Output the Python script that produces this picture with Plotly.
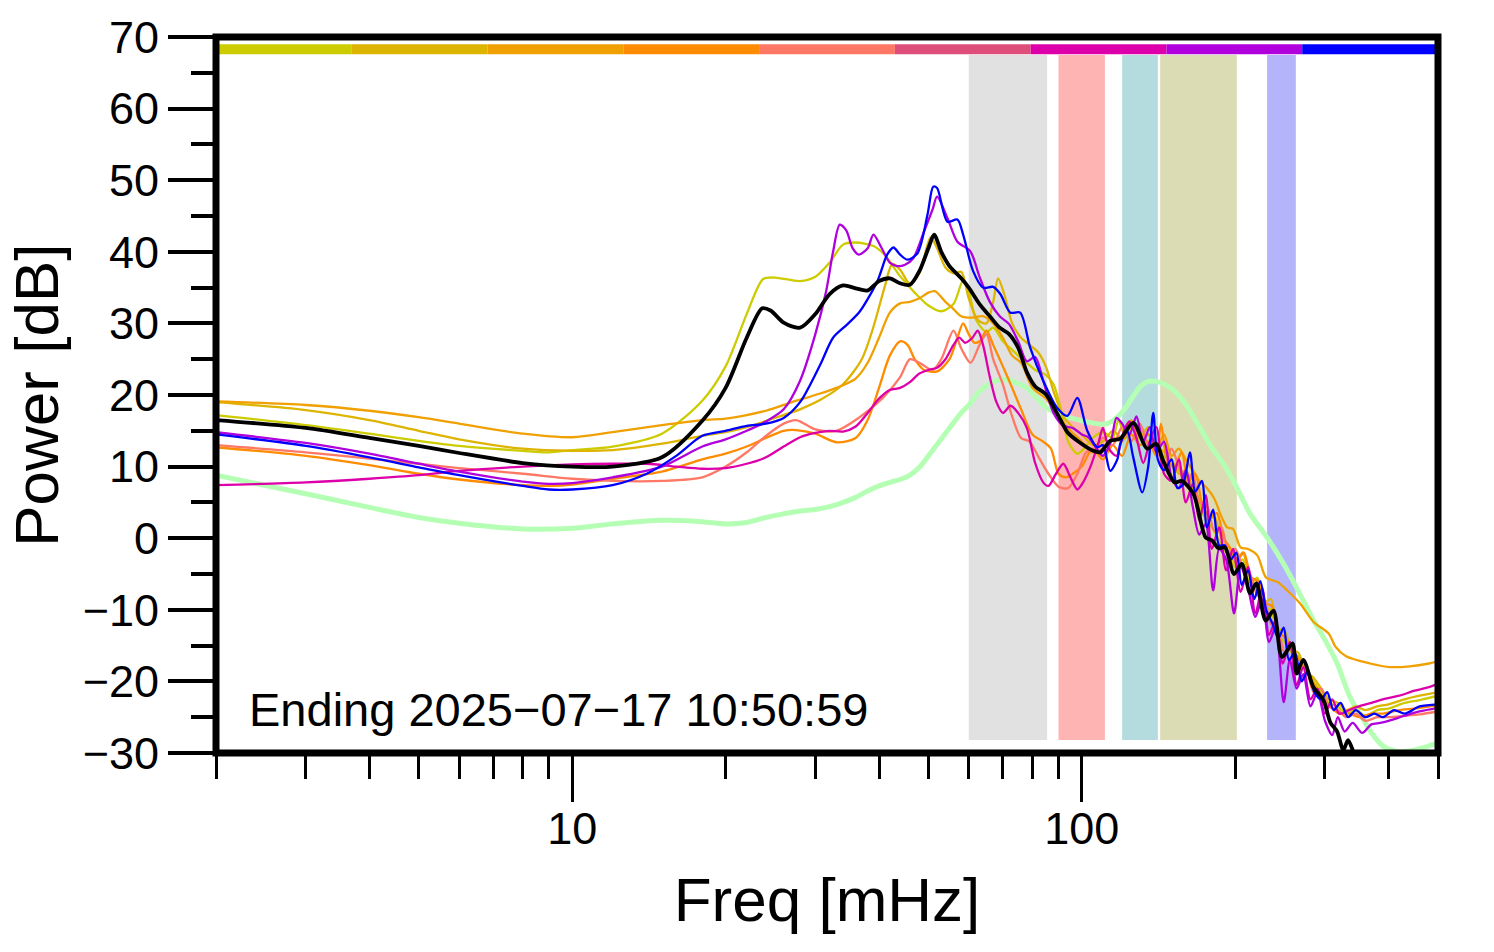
import math
import plotly.graph_objects as go

# ---------------- data (frequency mHz, power dB) ----------------
yg = [(2,17.2),(3,15.8),(4,14.6),(5,13.6),(6,12.9),(8,12.2),(9,12.0),(10,12.3),(12,12.8),(15,14.6),(18,19.2),(20,24.0),(22,31.3),(23.7,36.2),(25,36.4),(28,35.9),(30,36.5),(32,38.5),(34,41.0),(36,41.3),(39,40.8),(41,39.6),(44,36.6),(47,34.3),(50,32.5),(53,31.7),(56,32.7),(58.5,36.0),(60,34.5),(62,30.5),(65,28.8),(67,29.4),(70,27.5),(72.5,26.5),(75,25.5),(78,24.5),(81,23.5),(85,22.8),(88,21.5),(91,18.0),(94,13.5),(98,11.8),(101,12.5),(105,14.0),(110,14.8),(115,14.0),(118,16.5),(122,14.0),(126,15.8),(130,13.0),(135,14.5),(140,12.0),(145,11.5),(150,10.0),(155,9.5),(160,7.5),(165,8.5),(170,4.5),(176,2.5),(182,1.0),(188,-1.0),(194,-2.5),(200,-4.0),(207,-3.0),(214,-6.5),(221,-5.5),(228,-9.5),(235,-10.0),(242,-13.5),(250,-14.5),(258,-16.0),(266,-16.5),(275,-18.0),(285,-20.0),(295,-21.5),(305,-23.0),(318,-23.5),(330,-24.5),(345,-24.0),(360,-24.8),(380,-24.0),(400,-23.8),(430,-23.0),(460,-22.6),(500,-22.0)]

gold = [(2,19.0),(3,17.9),(4,16.5),(5,15.0),(6,13.8),(8,12.5),(10,12.2),(12,12.3),(15,13.2),(18,14.3),(20,14.8),(22,15.5),(25,16.8),(28,18.0),(31,19.5),(34,21.5),(37,25.0),(39,29.5),(41,35.0),(42.5,38.3),(44,37.5),(46,35.5),(48,37.0),(50.5,42.0),(52,40.5),(54,37.8),(56,37.0),(58,37.2),(60,33.5),(62.5,30.5),(65,30.0),(67,33.0),(68.5,36.3),(70.5,34.0),(73,30.0),(76,28.0),(79,27.0),(82,26.0),(85,24.0),(88,20.5),(92,17.0),(96,15.5),(100,14.5),(105,13.0),(110,13.5),(115,15.0),(120,14.0),(125,16.0),(130,14.0),(135,15.5),(140,13.0),(145,12.0),(150,11.0),(155,9.0),(160,9.5),(165,7.0),(170,5.5),(176,2.5),(182,3.0),(188,0.0),(194,-1.0),(200,-3.5),(207,-2.0),(214,-5.5),(221,-6.0),(228,-9.0),(235,-8.5),(242,-12.5),(250,-13.0),(258,-15.5),(266,-16.0),(275,-18.5),(285,-19.5),(295,-21.0),(305,-22.5),(318,-23.0),(330,-24.0),(345,-23.5),(360,-24.0),(380,-23.5),(400,-23.2),(430,-22.5),(460,-22.0),(500,-21.5)]

orange = [(2,19.1),(3,18.6),(4,17.8),(5,16.9),(6,16.0),(8,14.6),(10,14.1),(12,14.8),(15,15.8),(18,16.5),(20,16.7),(22,17.2),(24,17.8),(27,19.0),(30,20.0),(33,21.0),(36,22.3),(38,24.5),(40,28.0),(42,31.5),(44,32.8),(46,33.0),(48,33.5),(50,34.3),(51.5,34.5),(54,33.0),(56,32.0),(58,31.0),(61,30.8),(64,31.0),(67,30.0),(70,28.0),(73,25.5),(76,24.5),(80,21.0),(85,19.5),(90,17.0),(95,15.0),(100,13.5),(105,12.0),(110,12.5),(115,14.0),(120,13.5),(125,16.5),(130,14.0),(135,14.5),(140,12.5),(145,14.5),(150,11.5),(155,12.5),(160,11.0),(165,9.5),(170,8.0),(176,7.0),(182,5.5),(188,3.0),(193,1.5),(198,1.3),(205,-1.3),(212,-1.5),(221,-2.4),(230,-5.5),(242,-6.1),(253,-7.3),(268,-9.1),(285,-11.7),(305,-13.3),(315,-15.2),(330,-16.5),(368,-17.5),(403,-18.0),(440,-17.9),(480,-17.5),(500,-17.2)]

darkorange = [(2,12.7),(3,11.5),(4,10.2),(5,9.0),(6,8.2),(8,7.4),(9,7.3),(10,7.5),(12,8.3),(15,9.3),(18,11.0),(20,11.8),(22,12.8),(24,14.0),(26,15.0),(27.5,15.1),(30,14.6),(33,13.4),(36,14.0),(38,16.5),(40,21.0),(42,25.5),(44,27.5),(45.5,27.0),(47,25.0),(49,23.5),(52,23.3),(55,25.0),(57,28.0),(58.5,30.0),(60,28.5),(61.5,27.3),(63,27.5),(65,29.0),(67,27.0),(70,24.0),(73,21.0),(76,18.0),(80,14.5),(84,13.5),(87,12.5),(90,9.0),(93,8.5),(96,9.0),(100,10.0),(105,12.5),(110,11.0),(115,13.0),(120,11.5),(125,14.5),(130,13.0),(135,13.5),(140,11.5),(143,16.0),(147,11.0),(152,10.0),(157,12.0),(162,8.0),(167,9.0),(172,5.0),(178,3.0),(184,3.5),(190,0.0),(196,-1.5),(202,-3.0),(208,-2.0),(215,-5.5),(222,-6.0),(229,-9.0),(236,-9.5),(243,-13.0),(251,-14.0),(259,-15.5),(267,-17.0),(276,-18.5),(286,-20.5),(296,-22.0),(307,-23.5),(320,-24.5),(335,-24.5),(350,-25.0),(370,-24.5),(390,-24.5),(420,-24.0),(450,-23.8),(500,-23.3)]

salmon = [(2,13.0),(3,12.0),(4,11.1),(5,10.4),(6,9.8),(8,9.0),(10,8.3),(12,8.0),(15,8.0),(18,8.5),(20,10.0),(22,12.0),(24,14.3),(26,16.0),(27.5,16.5),(30,15.2),(33,15.0),(36.5,16.8),(40.7,19.6),(44,22.5),(46,25.0),(48,24.5),(51,23.5),(53,25.0),(56,29.0),(58,26.5),(60.5,24.5),(63,27.0),(65,28.5),(67,25.0),(70,21.5),(73,17.0),(76,14.0),(79,13.5),(82,11.5),(86,9.0),(90,7.2),(94,7.0),(98,9.0),(102,12.0),(106,12.5),(110,14.0),(115,13.0),(120,15.5),(125,13.5),(130,16.0),(135,13.0),(140,12.5),(145,10.0),(150,12.5),(155,10.0),(160,8.0),(165,9.0),(170,5.0),(176,4.5),(182,1.0),(188,1.5),(194,-2.0),(200,-1.5),(207,-4.0),(214,-5.0),(221,-8.0),(228,-8.5),(235,-12.0),(242,-12.5),(250,-16.0),(258,-15.5),(266,-18.5),(275,-18.0),(285,-21.5),(295,-21.0),(305,-23.5),(318,-24.0),(330,-25.0),(345,-24.5),(360,-25.5),(380,-25.0),(400,-25.0),(430,-24.8),(460,-24.6),(500,-24.2)]

magenta = [(2,7.4),(3,7.8),(4,8.3),(5,8.8),(6,9.4),(8,10.0),(10,10.3),(12,10.4),(14,10.4),(16,10.0),(18,9.7),(20,9.8),(22,10.4),(24,11.3),(26,12.8),(28,14.1),(30,14.7),(32,15.0),(34,14.9),(36,15.6),(38,17.5),(40,19.5),(42,20.7),(44,21.0),(46,21.8),(48,23.0),(50,23.5),(52,23.8),(54,25.0),(56,27.0),(57.5,28.0),(59,27.3),(61,28.0),(62.5,29.0),(64,27.0),(66,22.5),(68,19.0),(70,17.5),(72.5,18.5),(75,17.5),(78,15.4),(81,10.5),(84,7.8),(86,7.3),(89,9.0),(92,10.4),(95,8.5),(98,6.8),(100,7.5),(104,10.0),(108,13.5),(110,15.4),(113,12.5),(117,11.5),(121,15.0),(124,16.3),(128,14.0),(132,10.5),(136,13.5),(140,15.5),(145,9.0),(150,8.0),(155,11.0),(160,5.0),(165,7.5),(170,2.5),(175,6.0),(180,-1.5),(186,1.5),(192,-4.5),(198,-1.5),(205,-7.5),(212,-4.0),(219,-10.5),(226,-7.0),(233,-13.5),(240,-11.5),(248,-17.5),(256,-14.5),(264,-20.5),(272,-18.0),(281,-22.5),(290,-21.0),(300,-24.5),(310,-22.5),(320,-24.5),(335,-24.0),(350,-23.5),(370,-23.0),(390,-22.5),(420,-22.0),(450,-21.3),(480,-20.8),(500,-20.3)]

purple = [(2,14.8),(3,13.3),(4,11.8),(5,10.4),(6,9.3),(8,7.9),(9,7.6),(10,7.7),(12,8.5),(15,10.0),(18,12.8),(20,13.8),(22,15.0),(24,16.3),(26,18.0),(28,22.0),(30,28.5),(31.5,34.5),(32.5,40.0),(33.5,43.8),(34.5,43.0),(35.5,40.5),(36.5,39.6),(38,40.5),(39,42.4),(40.5,40.5),(42,38.5),(43.5,38.0),(45,38.2),(46.7,39.1),(49,42.8),(51,46.0),(52,47.7),(54.5,44.7),(57,41.4),(60.4,40.1),(63,36.5),(66,33.0),(69,31.0),(72,29.9),(75,27.5),(78,24.7),(81,25.3),(84,22.0),(88,17.5),(92,15.7),(96,15.4),(100,14.5),(103,14.1),(107,12.5),(110,11.5),(114,13.5),(117,16.8),(120,16.0),(124,14.5),(128,17.0),(132,13.5),(136,15.5),(140,12.0),(145,13.5),(150,8.5),(155,7.0),(160,9.5),(165,4.5),(170,0.5),(175,2.0),(181,-7.3),(186,-1.5),(192,-3.0),(199,-10.5),(205,-4.0),(212,-7.0),(219,-11.0),(226,-8.5),(233,-14.5),(240,-12.5),(249,-22.9),(256,-17.0),(264,-21.0),(272,-19.0),(281,-23.5),(290,-21.5),(300,-25.5),(310,-27.5),(318,-25.0),(328,-27.0),(340,-25.8),(355,-27.2),(370,-26.0),(385,-25.8),(400,-25.5),(430,-24.8),(460,-24.2),(500,-23.7)]

blue = [(2,14.5),(3,12.9),(4,11.3),(5,9.9),(6,8.8),(8,7.3),(9,6.8),(10,6.8),(12,7.4),(14,9.0),(16,11.5),(18,14.3),(20,15.0),(22,15.7),(24,16.0),(26,16.8),(28,19.0),(30.7,24.3),(32.5,28.0),(34.7,29.9),(36.7,31.7),(39.7,35.9),(41.5,39.6),(42.7,40.6),(44,39.6),(45.5,38.9),(47.6,39.8),(49.8,45.2),(51.1,49.1),(52,48.9),(54.5,44.2),(57,44.5),(58.5,42.4),(61.2,37.3),(64,35.0),(67,35.1),(69.2,34.1),(72.4,31.5),(75.7,31.5),(79.2,26.6),(84,22.0),(89.5,18.2),(93.7,17.1),(98,19.6),(102.5,15.0),(107.3,12.7),(110,13.0),(113.7,9.4),(117.4,11.0),(119,13.2),(122.8,15.0),(126,11.5),(131.4,6.4),(135,10.0),(138.1,17.5),(141,11.0),(145,9.5),(150,11.0),(154,7.0),(158,7.5),(163,12.0),(167,6.5),(172,8.0),(176,1.5),(181,4.0),(186,-1.0),(191,-1.0),(196,-3.0),(201,-2.0),(206,-6.5),(212,-4.5),(218,-8.5),(224,-6.0),(230,-10.0),(237,-12.0),(243,-14.0),(249,-12.5),(255,-17.0),(262,-16.0),(270,-20.0),(278,-18.5),(286,-21.5),(295,-22.5),(303,-21.5),(312,-24.0),(322,-23.0),(333,-25.0),(345,-24.0),(360,-25.0),(375,-24.5),(390,-25.0),(410,-24.0),(430,-24.5),(460,-23.5),(500,-23.2)]

mean_black = [(2,16.5),(3,15.4),(4,14.0),(5,12.9),(6,11.9),(8,10.5),(10,10.0),(12,10.0),(15,11.3),(18,16.4),(20,21.0),(22,28.0),(23.6,32.1),(24.5,31.8),(26,30.1),(28,29.4),(30,31.3),(32,34.1),(34,35.3),(36,34.9),(38,34.6),(40,35.9),(42,36.3),(44,35.6),(46,35.4),(48,37.3),(50,40.5),(51.3,42.4),(53,40.0),(55,38.0),(58,36.3),(60,35.0),(63,32.7),(66,31.0),(69,29.4),(72,28.5),(75,26.6),(78,23.2),(81,21.2),(85,20.1),(89.5,17.4),(93.7,14.8),(98,13.6),(105.3,12.2),(108.7,12.0),(113.7,13.6),(119,13.9),(126.2,16.1),(134.3,12.5),(140,13.2),(144.5,10.8),(152,7.8),(157,8.0),(165.6,6.2),(175,0.1),(180,-0.3),(185.5,-1.4),(191,-1.3),(199,-5.0),(206,-3.6),(214,-7.7),(220,-6.3),(229.5,-11.5),(237.8,-10.1),(247,-16.6),(259,-14.7),(264,-18.9),(272,-17.0),(284.7,-20.8),(298,-22.6),(307.7,-25.8),(317,-27.0),(326,-29.6),(333,-28.2),(341,-29.8),(352,-32.0),(370,-34.0)]

reference_green = [(2,8.8),(3,6.2),(4,4.3),(5,2.9),(6,2.1),(8,1.3),(10,1.4),(12,2.0),(15,2.5),(18,2.3),(20,2.0),(22,2.2),(24,2.9),(26,3.4),(28,3.8),(30,4.0),(32,4.4),(34,5.0),(36,5.7),(38,6.6),(40,7.3),(42,7.8),(44,8.2),(46,8.8),(48,9.9),(50,11.5),(52,13.1),(55,15.4),(58,17.5),(60,18.6),(63,20.5),(66,21.6),(69,22.1),(72,22.1),(75,21.6),(78,21.0),(81,19.8),(85,18.3),(90,17.3),(95,16.8),(100,16.4),(105,16.1),(110,15.9),(115,16.4),(120,17.6),(125,19.4),(130,21.1),(135,21.9),(140,21.9),(145,21.5),(150,20.9),(160,18.7),(170,15.6),(180,12.6),(190,10.3),(200,7.5),(214,3.4),(231,0.1),(249,-3.6),(268,-7.8),(285,-11.5),(300,-14.2),(317,-17.5),(336,-22.2),(357,-25.4),(373,-27.5),(391,-29.1),(416,-29.8),(447,-29.6),(476,-29.1),(500,-28.6)]

# shaded frequency bands (mHz)
band_lo = [60, 90, 120, 142.5, 231]
band_hi = [85.5, 111, 141, 201.5, 263]
band_colors = ["#e1e1e1", "#ffb4b4", "#b4dcdf", "#dcdcb4", "#b4b4fa"]
band_bottom = -28.2
band_top = 67.5

# colour strip along the top (one segment per series / period)
strip_colors = ["#cccc00", "#ddb400", "#f0a000", "#ff8c00", "#ff7866",
                "#dd4f7a", "#dd00aa", "#b000dd", "#0000ff"]

series = [
    ("yg", yg, "#cccc00"),
    ("gold", gold, "#ddb400"),
    ("orange", orange, "#f0a000"),
    ("darkorange", darkorange, "#ff8c00"),
    ("salmon", salmon, "#ff7866"),
    ("magenta", magenta, "#dd00aa"),
    ("purple", purple, "#b000dd"),
    ("blue", blue, "#0000ff"),
]

x_major = [10, 100]
x_minor = [2, 3, 4, 5, 6, 7, 8, 9, 20, 30, 40, 50, 60, 70, 80, 90, 200, 300, 400, 500]

FONT = "Liberation Sans, Arial, Helvetica, sans-serif"

fig = go.Figure()

for lo, hi, c in zip(band_lo, band_hi, band_colors):
    fig.add_trace(go.Scatter(
        x=[lo, hi, hi, lo, lo],
        y=[band_bottom, band_bottom, band_top, band_top, band_bottom],
        mode="lines", fill="toself", fillcolor=c, line=dict(width=0, color=c),
        hoverinfo="skip", showlegend=False))

gf, gp = zip(*reference_green)
fig.add_trace(go.Scatter(x=gf, y=gp, mode="lines",
                         line=dict(color="rgb(180,255,180)", width=5, shape="spline", smoothing=0.8),
                         showlegend=False))

for name, data, col in series:
    f, p = zip(*data)
    fig.add_trace(go.Scatter(x=f, y=p, mode="lines", name=name,
                             line=dict(color=col, width=2.3, shape="spline", smoothing=0.8),
                             showlegend=False))

bf, bp = zip(*mean_black)
fig.add_trace(go.Scatter(x=bf, y=bp, mode="lines", name="mean",
                         line=dict(color="black", width=3.8, shape="spline", smoothing=0.8),
                         showlegend=False))

shapes = []
n = len(strip_colors)
for i, c in enumerate(strip_colors):
    shapes.append(dict(type="rect", xref="paper", yref="paper",
                       x0=i / n, x1=(i + 1) / n, y0=0.976, y1=0.990,
                       fillcolor=c, line=dict(width=0), layer="above"))
shapes.append(dict(type="rect", xref="paper", yref="paper", x0=0, x1=1, y0=0, y1=1,
                   line=dict(color="black", width=7), fillcolor="rgba(0,0,0,0)", layer="above"))

fig.update_layout(
    width=1494, height=952,
    margin=dict(l=216, r=56, t=35, b=199),
    paper_bgcolor="white", plot_bgcolor="white",
    showlegend=False,
    font=dict(family=FONT, color="black"),
    shapes=shapes,
    annotations=[
        dict(text="Ending 2025\u221207\u221217 10:50:59", xref="paper", yref="paper",
             x=0.0254, y=0.061, xanchor="left", yanchor="middle",
             showarrow=False, font=dict(size=47, family=FONT, color="black")),
        dict(text="Power [dB]", xref="paper", yref="paper", x=-0.1475, y=0.5,
             xanchor="center", yanchor="middle", textangle=-90, showarrow=False,
             font=dict(size=62, family=FONT, color="black")),
    ],
)

fig.update_xaxes(
    type="log", range=[math.log10(2), math.log10(500)],
    tickmode="array", tickvals=x_major, ticktext=[str(v) for v in x_major],
    ticks="outside", ticklen=48, tickwidth=3, tickcolor="black",
    tickfont=dict(size=45, family=FONT, color="black"),
    ticklabelstandoff=-12,
    showgrid=False, zeroline=False, showline=False,
    minor=dict(tickmode="array", tickvals=x_minor, ticks="outside",
               ticklen=25, tickwidth=3, tickcolor="black", showgrid=False),
    title=dict(text="Freq [mHz]", font=dict(size=62, family=FONT, color="black"), standoff=24),
)
fig.update_yaxes(
    range=[-30, 70], tickmode="linear", tick0=-30, dtick=10,
    ticks="outside", ticklen=47, tickwidth=4, tickcolor="black",
    tickfont=dict(size=45, family=FONT, color="black"),
    showgrid=False, zeroline=False, showline=False,
    minor=dict(dtick=5, ticks="outside", ticklen=24, tickwidth=4, tickcolor="black", showgrid=False),
)

fig.write_html("out.html", config={"displayModeBar": False},
               post_script="document.body.style.margin='0';document.body.style.padding='0';")
